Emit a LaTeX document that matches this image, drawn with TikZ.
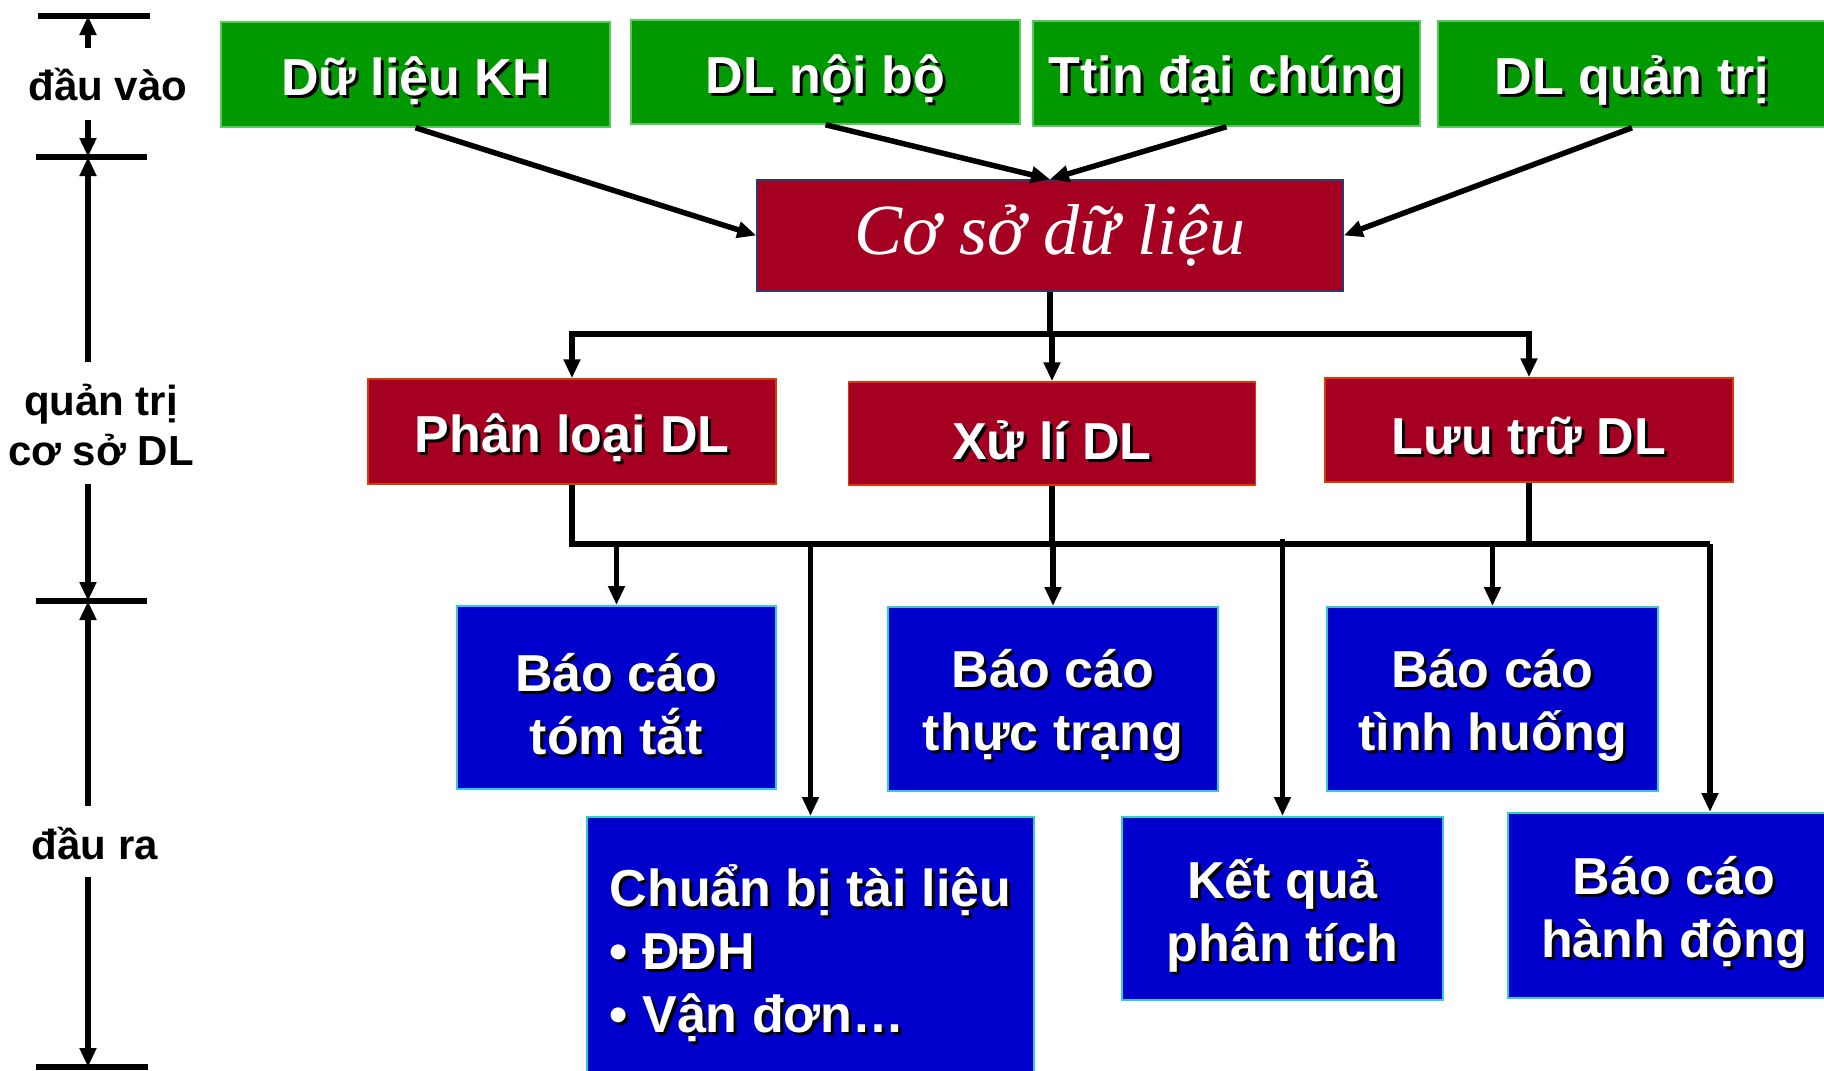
\documentclass[tikz,border=0pt]{standalone}
\usepackage{fontspec}
\setmainfont{Liberation Sans}
\newfontfamily\csdlfont{Liberation Serif}
\usetikzlibrary{arrows.meta}
\definecolor{gfill}{RGB}{0,153,0}
\definecolor{gedge}{RGB}{90,200,90}
\definecolor{rfill}{RGB}{165,0,33}
\definecolor{redge}{RGB}{214,60,10}
\definecolor{cedge}{RGB}{40,60,110}
\definecolor{bfill}{RGB}{0,0,204}
\definecolor{bedge}{RGB}{51,204,204}
\newcommand\shd[1]{\raisebox{-8pt}[\height][\depth]{\rlap{\kern3pt\raisebox{-3pt}{\color{black}#1}}#1}}
\tikzset{
  box/.style={rectangle, inner sep=0pt, line width=1.5pt, text=white, align=center,
    font=\bfseries\fontsize{52}{63}\selectfont},
  gbox/.style={box, fill=gfill, draw=gedge},
  rbox/.style={box, fill=rfill, draw=redge},
  bbox/.style={box, fill=bfill, draw=bedge, line width=2pt},
  conn/.style={line width=5.5pt},
  arr/.style={conn, -{Triangle[length=19pt,width=16pt]}},
  lab/.style={font=\bfseries\fontsize{42}{51}\selectfont, align=center, inner sep=0pt}
}
\begin{document}
\begin{tikzpicture}[x=1pt,y=-1pt]
\clip (0,0) rectangle (1824,1071);
\fill[white] (0,0) rectangle (1824,1071);

% left ruler
\coordinate (t0) at (88,16);
\coordinate (t1) at (88,157);
\coordinate (t2) at (88,601);
\coordinate (t3) at (88,1067);
\coordinate (a1) at (88,48);
\coordinate (a2) at (88,120);
\coordinate (a3) at (88,362);
\coordinate (a4) at (88,484);
\coordinate (a5) at (88,806);
\coordinate (a6) at (88,877);
\draw[conn] (38,16) -- (150,16);
\draw[conn] (36,157) -- (147,157);
\draw[conn] (36,601) -- (147,601);
\draw[conn] (36,1067) -- (148,1067);
\draw[arr] (a1) -- (t0);
\draw[arr] (a2) -- (t1);
\draw[arr] (a3) -- (t1);
\draw[arr] (a4) -- (t2);
\draw[arr] (a5) -- (t2);
\draw[arr] (a6) -- (t3);
\node[lab] (Lin) at (108,85) {đầu vào};
\node[lab] (Lmid) at (101,425) {quản trị\\cơ sở DL};
\node[lab] (Lout) at (95,844) {đầu ra};

% input boxes
\node[gbox, minimum width=389, minimum height=105] (G1) at (415.5,74.5) {\shd{Dữ liệu KH}};
\node[gbox, minimum width=389, minimum height=104] (G2) at (825.5,72) {\shd{DL nội bộ}};
\node[gbox, minimum width=387, minimum height=105] (G3) at (1226.5,73.5) {\shd{Ttin đại chúng}};
\node[gbox, minimum width=388, minimum height=106] (G4) at (1632,74) {\shd{DL quản trị}};

% database
\node[box, fill=rfill, draw=cedge, minimum width=586, minimum height=111,
  font=\csdlfont\itshape\fontsize{72}{80}\selectfont] (DB) at (1050,235.5) {Cơ sở dữ liệu};

\draw[arr] (G1.south) -- (DB.west);
\draw[arr] (G2.south) -- (DB.north);
\draw[arr] (G3.south) -- (DB.north);
\draw[arr] (G4.south) -- (DB.east);

% management boxes
\node[rbox, minimum width=408, minimum height=105] (R1) at (572,431.5) {\shd{Phân loại DL}};
\node[rbox, minimum width=407, minimum height=103] (R2) at (1052,433.5) {\shd{Xử lí DL}};
\node[rbox, minimum width=408, minimum height=104] (R3) at (1529,430) {\shd{Lưu trữ DL}};

\coordinate (busA) at (1050,334);
\draw[arr] (DB.south) -- (busA) -| (R1.north);
\draw[arr] (busA) -| (R3.north);
\draw[arr] (R2.north |- busA) -- (R2.north);

% output boxes
\node[bbox, minimum width=319, minimum height=183] (B1) at (616.5,697.5) {\shd{Báo cáo}\\\shd{tóm tắt}};
\node[bbox, minimum width=330, minimum height=184] (B2) at (1053,699) {\shd{Báo cáo}\\\shd{thực trạng}};
\node[bbox, minimum width=331, minimum height=184] (B3) at (1492.5,699) {\shd{Báo cáo}\\\shd{tình huống}};
\node[bbox, minimum width=447, minimum height=260, align=left] (B4) at (810.5,947) {\shd{Chuẩn bị tài liệu}\\\shd{• ĐĐH}\\\shd{• Vận đơn…}};
\node[bbox, minimum width=321, minimum height=183] (B5) at (1282.5,908.5) {\shd{Kết quả}\\\shd{phân tích}};
\node[bbox, minimum width=332, minimum height=185] (B6) at (1674,905.5) {\shd{Báo cáo}\\\shd{hành động}};

\coordinate (jL) at (572,544);
\coordinate (jR) at (1710,544);
\coordinate (jK) at (1282.5,539);
\draw[conn] (R1.south) -- (jL) -- (jR);
\draw[conn] (R2.south) -- (R2.south |- jL);
\draw[conn] (R3.south) -- (R3.south |- jL);
\draw[arr] (B1.north |- jL) -- (B1.north);
\draw[arr] (B4.north |- jL) -- (B4.north);
\draw[arr] (B2.north |- jL) -- (B2.north);
\draw[arr] (jK) -- (B5.north);
\draw[arr] (B3.north |- jL) -- (B3.north);
\draw[arr] (jR) -- (jR |- B6.north);
\end{tikzpicture}
\end{document}
